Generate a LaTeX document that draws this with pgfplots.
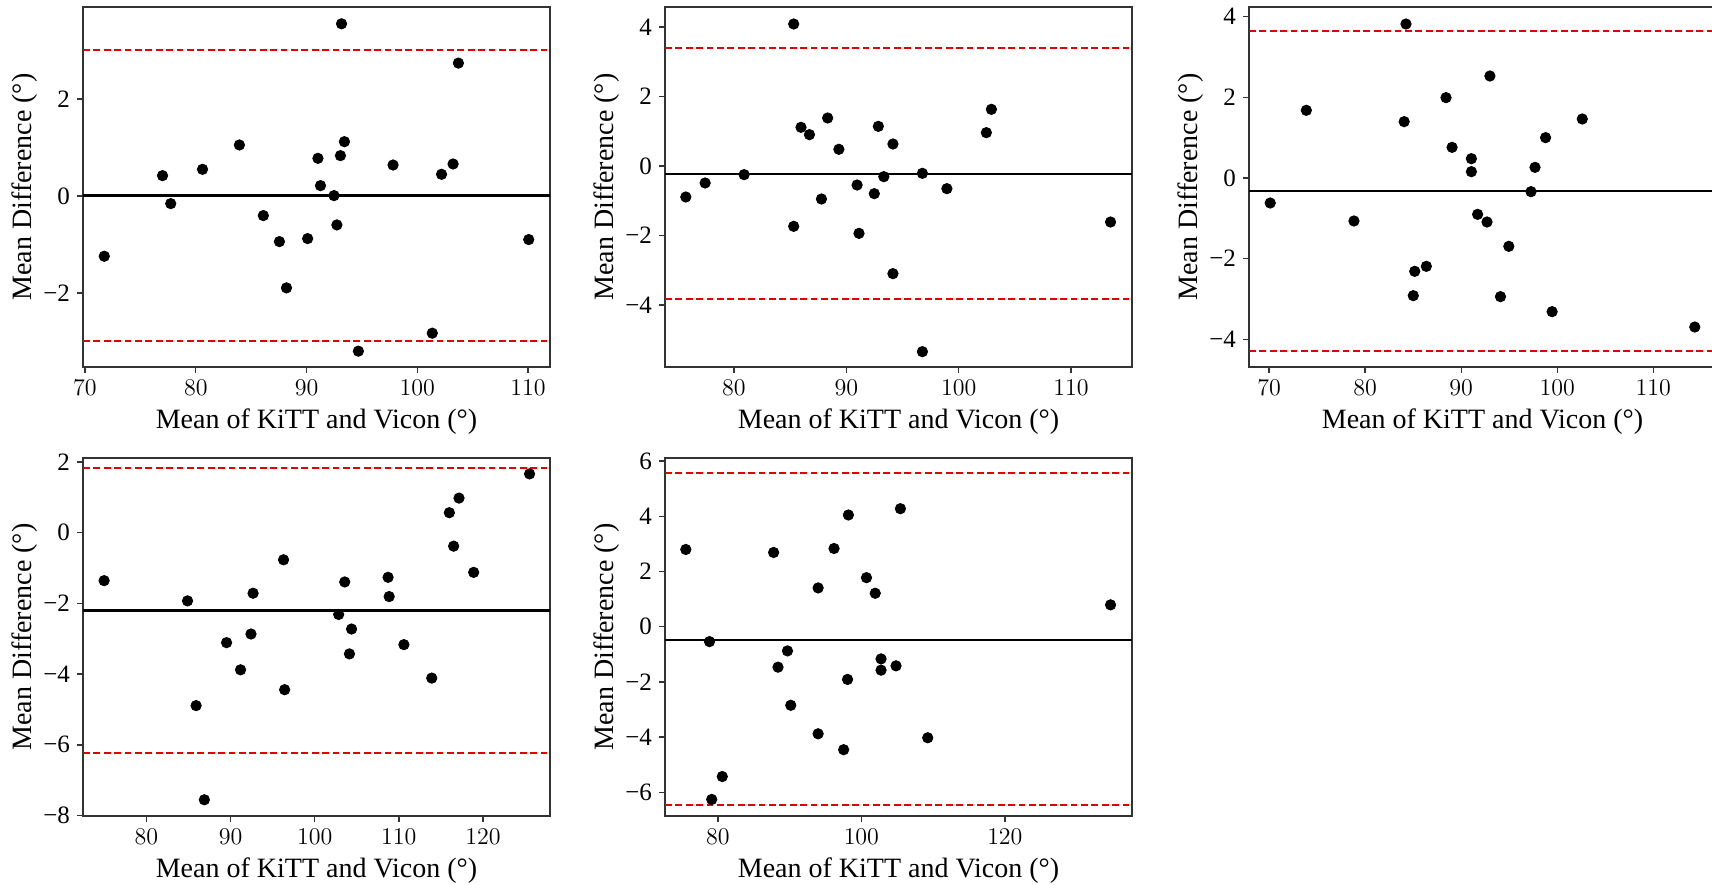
\documentclass[border=0pt]{standalone}
\usepackage{fontspec}
\setmainfont{Liberation Serif}
\usepackage{pgfplots}
\pgfplotsset{compat=1.18}

\pgfplotsset{
  ba/.style={
    scale only axis, width=233.5pt, height=180pt, anchor=south west,
    axis line style={black!80, line width=0.8pt},
    tick align=outside, tick pos=left, major tick length=3pt,
    tick style={black!80, line width=0.7pt},
    tick label style={font=\fontsize{12.5}{14}\selectfont},
    label style={font=\fontsize{14}{16}\selectfont},
    xlabel={Mean of KiTT and Vicon (°)},
    ylabel={Mean Difference (°)},
    ylabel style={yshift=-4pt},
  },
  pts/.style={only marks, mark=*, mark size=2.6pt, black},
  meanl/.style={black, line width=1.1pt},
  loal/.style={red!90!black, line width=1pt, dash pattern=on 3.4pt off 1.8pt},
}

\begin{document}
\begin{tikzpicture}
% panel 1
\begin{axis}[ba, at={(41.5pt,258.5pt)},
  xmin=69.82, xmax=111.98, ymin=-3.53, ymax=3.90,
  xtick={70,80,90,100,110}, ytick={-2,0,2}, yticklabels={−2,0,2}]
\addplot[meanl] coordinates {(69.82,0.01) (111.98,0.01)};
\addplot[loal] coordinates {(69.82,3.017) (111.98,3.017)};
\addplot[loal] coordinates {(69.82,-2.997) (111.98,-2.997)};
\addplot[pts] coordinates {
 (71.74,-1.244) (77.0,0.419) (77.74,-0.158) (80.61,0.55) (83.94,1.052)
 (86.10,-0.405) (87.55,-0.942) (88.19,-1.897) (90.10,-0.880) (91.03,0.777)
 (91.26,0.213) (92.48,0.007) (92.74,-0.598) (93.06,0.832) (93.16,3.553)
 (93.42,1.120) (94.68,-3.203) (97.81,0.639) (101.35,-2.832) (102.19,0.447)
 (103.23,0.660) (103.71,2.742) (110.06,-0.900)};
\end{axis}
% panel 2
\begin{axis}[ba, at={(332.5pt,258.5pt)},
  xmin=73.87, xmax=115.42, ymin=-5.784, ymax=4.576,
  xtick={80,90,100,110}, ytick={-4,-2,0,2,4}, yticklabels={−4,−2,0,2,4}]
\addplot[meanl] coordinates {(73.87,-0.22) (115.42,-0.22)};
\addplot[loal] coordinates {(73.87,3.405) (115.42,3.405)};
\addplot[loal] coordinates {(73.87,-3.837) (115.42,-3.837)};
\addplot[pts] coordinates {
 (75.72,-0.892) (77.44,-0.489) (80.91,-0.249) (85.32,4.086) (85.32,-1.736)
 (85.97,1.113) (86.72,0.902) (87.79,-0.950) (88.34,1.381) (89.34,0.480)
 (90.96,-0.547) (91.13,-1.938) (92.49,-0.796) (92.85,1.141) (93.34,-0.307)
 (94.15,0.633) (94.15,-3.098) (96.77,-0.211) (96.77,-5.343) (98.95,-0.652)
 (102.46,0.959) (102.91,1.631) (113.51,-1.612)};
\end{axis}
% panel 3 (right edge cropped in the original)
\begin{axis}[ba, at={(624.5pt,258.5pt)},
  xmin=67.9, xmax=116.54, ymin=-4.686, ymax=4.24,
  xtick={70,80,90,100,110}, ytick={-4,-2,0,2,4}, yticklabels={−4,−2,0,2,4}]
\addplot[meanl] coordinates {(67.9,-0.314) (116.54,-0.314)};
\addplot[loal] coordinates {(67.9,3.653) (116.54,3.653)};
\addplot[loal] coordinates {(67.9,-4.281) (116.54,-4.281)};
\addplot[pts] coordinates {
 (70.11,-0.620) (73.87,1.678) (78.83,-1.066) (84.06,1.397) (84.25,3.818)
 (85.01,-2.917) (85.16,-2.314) (86.37,-2.190) (88.42,1.992) (89.05,0.760)
 (91.06,0.479) (91.06,0.157) (91.71,-0.901) (92.69,-1.091) (92.99,2.529)
 (94.09,-2.942) (94.96,-1.694) (97.27,-0.339) (97.69,0.264) (98.79,1.0)
 (99.47,-3.314) (102.61,1.463) (114.33,-3.695)};
\end{axis}
% panel 4
\begin{axis}[ba, at={(41.5pt,34pt)}, height=179pt,
  xmin=72.47, xmax=127.96, ymin=-8.013, ymax=2.109,
  xtick={80,90,100,110,120}, ytick={-8,-6,-4,-2,0,2}, yticklabels={−8,−6,−4,−2,0,2}]
\addplot[meanl] coordinates {(72.47,-2.202) (127.96,-2.202)};
\addplot[loal] coordinates {(72.47,1.828) (127.96,1.828)};
\addplot[loal] coordinates {(72.47,-6.232) (127.96,-6.232)};
\addplot[pts] coordinates {
 (74.98,-1.359) (84.89,-1.931) (85.91,-4.892) (86.89,-7.554) (89.53,-3.112)
 (91.19,-3.880) (92.43,-2.868) (92.68,-1.715) (96.30,-0.769) (96.43,-4.442)
 (102.85,-2.315) (103.57,-1.396) (104.13,-3.430) (104.38,-2.727) (108.72,-1.265)
 (108.85,-1.809) (110.60,-3.168) (113.91,-4.114) (116.0,0.562) (116.51,-0.384)
 (117.15,0.975) (118.89,-1.125) (125.53,1.659)};
\end{axis}
% panel 5
\begin{axis}[ba, at={(332.5pt,34pt)}, height=179pt,
  xmin=72.63, xmax=137.72, ymin=-6.855, ymax=6.11,
  xtick={80,100,120}, ytick={-6,-4,-2,0,2,4,6}, yticklabels={−6,−4,−2,0,2,4,6}]
\addplot[meanl] coordinates {(72.63,-0.468) (137.72,-0.468)};
\addplot[loal] coordinates {(72.63,5.558) (137.72,5.558)};
\addplot[loal] coordinates {(72.63,-6.459) (137.72,-6.459)};
\addplot[pts] coordinates {
 (75.53,2.797) (78.83,-0.540) (79.14,-6.255) (80.61,-5.426) (87.77,2.689)
 (88.38,-1.465) (89.70,-0.876) (90.16,-2.845) (93.97,1.405) (93.97,-3.878)
 (96.19,2.833) (97.53,-4.454) (98.07,-1.909) (98.19,4.046) (100.71,1.777)
 (101.93,1.212) (102.74,-1.165) (102.74,-1.573) (104.83,-1.417) (105.44,4.274)
 (109.25,-4.022) (134.73,0.792)};
\end{axis}
\pgfresetboundingbox
\path[use as bounding box] (0,0) rectangle (856pt,442pt);
\end{tikzpicture}
\end{document}
